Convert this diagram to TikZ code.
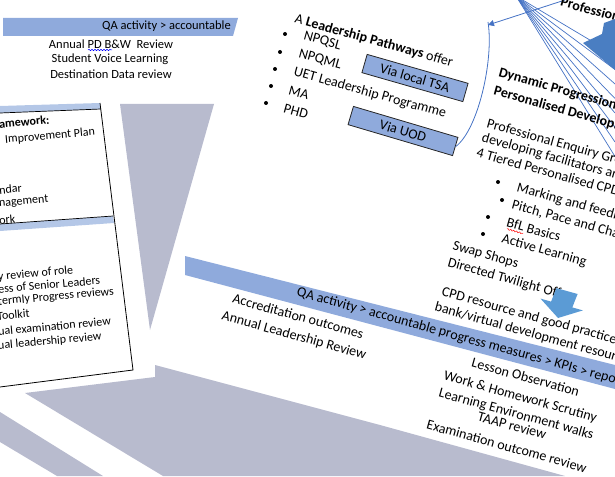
\documentclass[tikz,border=0pt]{standalone}
\usepackage{fontspec}
\setmainfont{Carlito}
\usetikzlibrary{decorations.pathmorphing,arrows.meta}
\definecolor{slidegray}{HTML}{B8BBCE}
\definecolor{bandblue}{HTML}{8FAADC}
\definecolor{barblue}{HTML}{B4C7E7}
\definecolor{lineblue}{HTML}{4472C4}
\definecolor{arrowblue}{HTML}{5B9BD5}
\definecolor{darkarrow}{HTML}{4A7EC2}
\tikzset{
  rtxt/.style={anchor=west, rotate=-15.5, font=\fontsize{14}{16}\selectfont, inner sep=0pt},
  ltxt/.style={anchor=west, rotate=5, font=\fontsize{12}{14}\selectfont, inner sep=0pt},
  ttxt/.style={font=\fontsize{12.5}{15}\selectfont, inner sep=0pt},
  viabox/.style={draw=black!85, fill=bandblue, line width=0.8pt, minimum height=19pt, inner sep=0pt, font=\fontsize{14}{16}\selectfont},
  bul/.style={circle, fill=black, inner sep=0pt, minimum size=4pt},
  fanline/.style={lineblue, line width=0.7pt},
  squiggle/.style={decorate, decoration={snake, segment length=3pt, amplitude=0.7pt}, line width=0.5pt}
}
\begin{document}
\begin{tikzpicture}[x=1pt,y=-1pt]
\useasboundingbox (0,0) rectangle (615,476);
\clip (0,0) rectangle (615,476);
% grey background shapes
\fill[slidegray] (120,104) -- (214,104) -- (150,330) -- cycle;
\fill[slidegray] (25,393) -- (155,377) -- (155,365) -- (380,425) -- (565,476) -- (163,476) -- cycle;
\fill[slidegray] (0,412) -- (103,476) -- (57,476) -- (0,442) -- cycle;

% left panel
\fill[barblue] (0,106) -- (100,103) -- (101,109) -- (0,113) -- cycle;
\draw[black, line width=0.7pt] (0,113) -- (101,109);
\fill[barblue] (0,224) -- (113,216) -- (114,223) -- (0,231) -- cycle;
\draw[black, line width=0.7pt] (0,224) -- (113,216);
\draw[black, line width=0.8pt] (100,103) -- (133,370) -- (0,387);
\node[ltxt, font=\bfseries\fontsize{12}{14}\selectfont] (l1) at (-1,124) {amework:};
\node[ltxt] (l2) at (5,140) {Improvement Plan};
\node[ltxt] (l3) at (-1,190) {ndar};
\node[ltxt] (l4) at (-1,204) {nagement};
\node[ltxt] (l5) at (-1,220) {ork};
\node[ltxt] (l6) at (-2,277) {y review of role};
\node[ltxt] (l7) at (-2,289) {ess of Senior Leaders};
\node[ltxt] (l8) at (-2,302) {termly Progress reviews};
\node[ltxt] (l9) at (-3,316) {Toolkit};
\node[ltxt] (l10) at (-2,331) {ual examination review};
\node[ltxt] (l11) at (-2,346) {ual leadership review};

% top-left slide
\fill[bandblue] (3,18) -- (238,18) -- (233,36) -- (3,36) -- cycle;
\node[ttxt, anchor=east] (qa1) at (231,26) {QA activity > accountable};
\node[ttxt] (t1) at (111,44) {Annual PD B\&W\ \ Review};
\node[ttxt] (t2) at (110,59) {Student Voice Learning};
\node[ttxt] (t3) at (111,74) {Destination Data review};
\draw[squiggle, blue] (88,50) -- (112,50);

% right slide: leadership
\node[rtxt] (lp) at (295,19) {A \textbf{Leadership Pathways} offer};
\node[bul] (b1) at (285,34) {};
\node[bul] (b2) at (280,52) {};
\node[bul] (b3) at (275,69) {};
\node[bul] (b4) at (271,86) {};
\node[bul] (b5) at (266,103) {};
\node[rtxt] (n1) at (304,36) {NPQSL};
\node[rtxt] (n2) at (299,54) {NPQML};
\node[rtxt] (n3) at (294,72) {UET Leadership Programme};
\node[rtxt] (n4) at (289,90) {MA};
\node[rtxt] (n5) at (284,108) {PHD};
\node[viabox, minimum width=105pt, rotate=-16] (tsa) at (415,78) {Via local TSA};
\node[viabox, minimum width=109pt, rotate=-16.5] (uod) at (403,131) {Via UOD};

% connectors
\coordinate (tip) at (488,25);
\coordinate (topend) at (565,0);
\draw[lineblue, line width=0.8pt] (uod.east) .. controls (478,130) and (494,60) .. ([yshift=3pt]tip);
\draw[lineblue, line width=0.8pt, -{Triangle[length=6pt,width=6pt]}] (topend) -- (tip);
\coordinate (fo) at (516,-4);
\foreach \i in {0,...,7} {
  \coordinate (fe\i) at (615,55+\i*14.5);
  \draw[fanline] (fo) -- (fe\i);
}
% big dark arrow
\fill[darkarrow] (583,43) -- (602,34) -- (604,23) -- (615,19) -- (615,70) -- cycle;
\node[rtxt, font=\bfseries\fontsize{14}{16}\selectfont] (prof) at (561,1) {Professional};

% right slide: development
\node[rtxt, font=\bfseries\fontsize{14}{16}\selectfont] (d1) at (499,73) {Dynamic Progression};
\node[rtxt, font=\bfseries\fontsize{14}{16}\selectfont] (d2) at (494,91) {Personalised Development};
\node[rtxt] (d3) at (487,124) {Professional Enquiry Groups};
\node[rtxt] (d4) at (482,138) {developing facilitators and};
\node[rtxt] (d5) at (477,152) {4 Tiered Personalised CPD};
\node[bul] (c1) at (498,182) {};
\node[bul] (c2) at (502,200) {};
\node[bul] (c3) at (488,217) {};
\node[bul] (c4) at (483,234) {};
\node[rtxt] (d6) at (517,188) {Marking and feedback};
\node[rtxt] (d7) at (512,205) {Pitch, Pace and Challenge};
\node[rtxt] (d8) at (507,222) {BfL Basics};
\draw[squiggle, red] (507,229) -- (523,233.5);
\node[rtxt] (d9) at (502,239) {Active Learning};
\node[rtxt] (d10) at (453,246) {Swap Shops};
\node[rtxt] (d11) at (448,263) {Directed Twilight Offer};
\fill[arrowblue] (556.4,288.1) -- (577.6,294.0) -- (572.3,307.4) -- (582.9,310.4) -- (558,318) -- (540.5,298.6) -- (551.1,301.6) -- cycle;
\node[rtxt] (d12) at (442,292) {CPD resource and good practice};
\node[rtxt] (d13) at (435,307) {bank/virtual development resources};

% right slide: QA band
\fill[bandblue] (185,256) -- (615,365) -- (615,389) -- (185,275) -- cycle;
\node[rtxt] (qa2) at (297,292) {QA activity > accountable progress measures > KPIs > repo};
\node[rtxt] (a1) at (233,298) {Accreditation outcomes};
\node[rtxt] (a2) at (222,316) {Annual Leadership Review};
\node[rtxt] (a3) at (472,362) {Lesson Observation};
\node[rtxt] (a4) at (444,376) {Work \& Homework Scrutiny};
\node[rtxt] (a5) at (439,393) {Learning Environment walks};
\node[rtxt] (a6) at (478,416) {TAAP review};
\node[rtxt] (a7) at (427,424) {Examination outcome review};
\end{tikzpicture}
\end{document}
